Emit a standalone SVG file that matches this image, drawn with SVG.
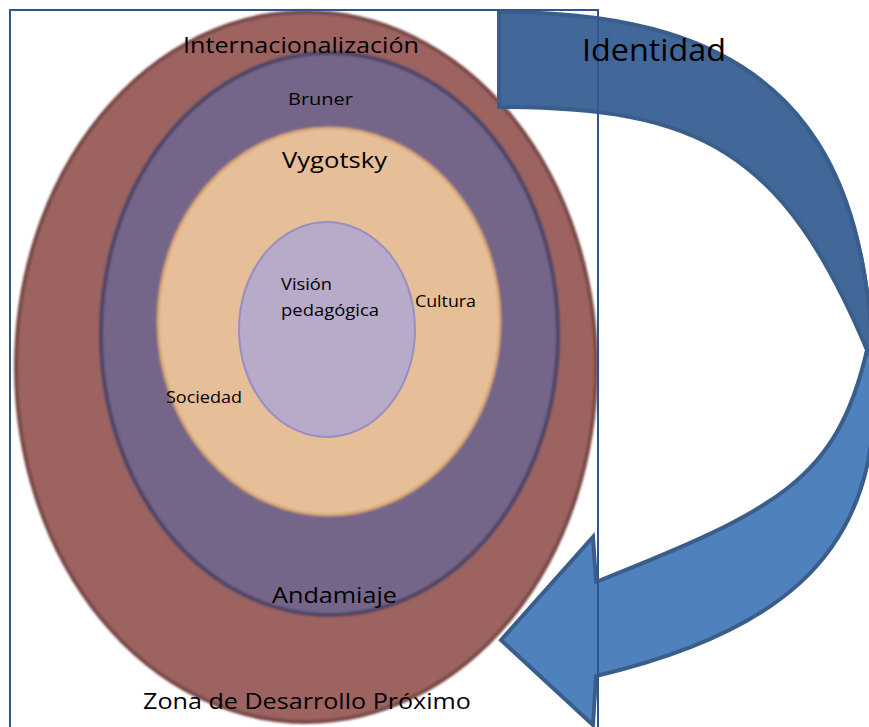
<svg xmlns="http://www.w3.org/2000/svg" width="869" height="727" viewBox="0 0 869 727">
<defs>
<style>
.lbl{font-family:"Open Sans","Noto Sans",sans-serif;font-weight:400;fill:#000;}
.big{font-size:21px;}
.small{font-size:16.5px;}
.xl{font-size:31px;}
</style>
<filter id="soft" x="-5%" y="-5%" width="110%" height="110%"><feGaussianBlur stdDeviation="1.3"/></filter>
<filter id="soft2" x="-5%" y="-5%" width="110%" height="110%"><feGaussianBlur stdDeviation="0.8"/></filter>
</defs>
<rect width="869" height="727" fill="#ffffff"/>
<g id="node-zdp">
<ellipse cx="306" cy="367" rx="290" ry="355" fill="#9c6461" stroke="#7a4947" stroke-width="4" filter="url(#soft)"/>
</g>
<g id="node-bruner">
<ellipse cx="329.5" cy="334" rx="228.5" ry="281" fill="#746689" stroke="#4f4567" stroke-width="4" filter="url(#soft2)"/>
</g>
<g id="node-vygotsky">
<ellipse cx="329" cy="321.5" rx="171" ry="193.5" fill="#e6bf99" stroke="#daa676" stroke-width="3" filter="url(#soft2)"/>
</g>
<g id="node-vision">
<ellipse cx="327" cy="329.5" rx="88" ry="107.5" fill="#b8abc9" stroke="#9a8dc2" stroke-width="2"/>
</g>
<g id="connectors">
<path d="M499,12 C760,12 874,120 874,400 C874,560 770,635 596,676 L593,725 L501,640 L593,537 L596,582 C777,510 837,480 867,350 C783,150 699,107 499,107 Z" fill="#4f81bd"/>
<path d="M499,12 C760,12 874,120 874,380 L867,350 C783,150 699,107 499,107 Z" fill="#416898"/>
<path d="M499,12 C760,12 874,120 874,400 C874,560 770,635 596,676 L593,725 L501,640 L593,537 L596,582 C777,510 837,480 867,350 C783,150 699,107 499,107 Z" fill="none" stroke="#3a5e8c" stroke-width="4" stroke-linejoin="miter"/>
</g>
<g id="frame">
<rect x="10" y="10" width="588" height="740" fill="none" stroke="#2f5590" stroke-width="2"/>
</g>
<g id="labels">
<text id="t-intern" class="lbl big" x="183" y="53" textLength="236" lengthAdjust="spacingAndGlyphs">Internacionalización</text>
<text id="t-bruner" class="lbl small" x="288" y="105" textLength="65" lengthAdjust="spacingAndGlyphs">Bruner</text>
<text id="t-vygotsky" class="lbl big" x="282" y="168" textLength="105" lengthAdjust="spacingAndGlyphs">Vygotsky</text>
<text id="t-vision1" class="lbl small" x="281" y="290" textLength="51" lengthAdjust="spacingAndGlyphs">Visión</text>
<text id="t-vision2" class="lbl small" x="281" y="316" textLength="98" lengthAdjust="spacingAndGlyphs">pedagógica</text>
<text id="t-cultura" class="lbl small" x="415" y="307" textLength="61" lengthAdjust="spacingAndGlyphs">Cultura</text>
<text id="t-sociedad" class="lbl small" x="166" y="402.5" textLength="76" lengthAdjust="spacingAndGlyphs">Sociedad</text>
<text id="t-andamiaje" class="lbl big" x="272" y="603" textLength="125" lengthAdjust="spacingAndGlyphs">Andamiaje</text>
<text id="t-zdp" class="lbl big" x="143" y="709" textLength="328" lengthAdjust="spacingAndGlyphs">Zona de Desarrollo Próximo</text>
<text id="t-identidad" class="lbl xl" x="582" y="61" textLength="144" lengthAdjust="spacingAndGlyphs">Identidad</text>
</g>
</svg>
